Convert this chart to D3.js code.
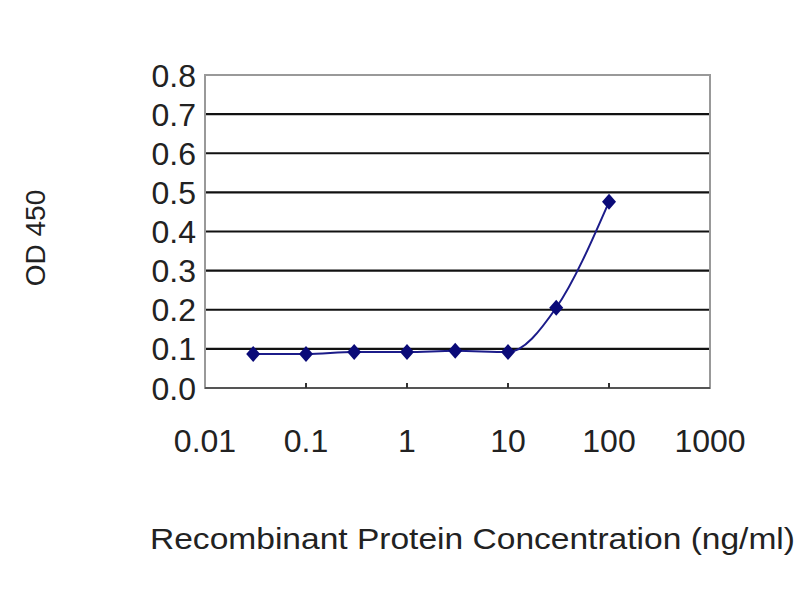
<!DOCTYPE html>
<html>
<head>
<meta charset="utf-8">
<script src="https://cdn.jsdelivr.net/npm/d3@7"></script>
<style>
  body { margin: 0; background: #fff; }
  text { font-family: "Liberation Sans", Arial, sans-serif; fill: #222; }
</style>
</head>
<body>
<div id="chart"></div>
<script>
// concentrations (ng/ml) and measured OD 450
var conc = [0.03, 0.1, 0.3, 1, 3, 10, 30, 100];
var od = [0.087, 0.087, 0.092, 0.092, 0.095, 0.092, 0.205, 0.476];
var xTicks = [0.01, 0.1, 1, 10, 100, 1000];
var yTicks = [0, 0.1, 0.2, 0.3, 0.4, 0.5, 0.6, 0.7, 0.8];

var width = 800, height = 600;
var margin = { top: 75, bottom: 212, left: 205, right: 90 };

var svg = d3.select("#chart").append("svg")
  .attr("width", width)
  .attr("height", height);

var x = d3.scaleLog().domain([0.01, 1000]).range([margin.left, width - margin.right]);
var y = d3.scaleLinear().domain([0, 0.8]).range([height - margin.bottom, margin.top]);

// gridlines
svg.append("g").selectAll("line")
  .data(yTicks.slice(1))
  .join("line")
  .attr("x1", x(0.01)).attr("x2", x(1000))
  .attr("y1", d => y(d)).attr("y2", d => y(d))
  .attr("stroke", "#111").attr("stroke-width", 2.2);

// plot frame
svg.append("rect")
  .attr("x", x(0.01)).attr("y", y(0.8))
  .attr("width", x(1000) - x(0.01)).attr("height", y(0) - y(0.8))
  .attr("fill", "none").attr("stroke", "#999").attr("stroke-width", 2);

// bottom axis line + inner ticks
svg.append("line")
  .attr("x1", x(0.01)).attr("x2", x(1000))
  .attr("y1", y(0)).attr("y2", y(0))
  .attr("stroke", "#555").attr("stroke-width", 2);
svg.append("g").selectAll("line")
  .data(xTicks.slice(1, -1))
  .join("line")
  .attr("x1", d => x(d)).attr("x2", d => x(d))
  .attr("y1", y(0)).attr("y2", y(0) - 5)
  .attr("stroke", "#333").attr("stroke-width", 2);

// y tick labels
svg.append("g").selectAll("text")
  .data(yTicks)
  .join("text")
  .attr("x", 196)
  .attr("y", d => y(d))
  .attr("dy", "0.36em")
  .attr("text-anchor", "end")
  .attr("font-size", 32)
  .text(d => d.toFixed(1));

// x tick labels
svg.append("g").selectAll("text")
  .data(xTicks)
  .join("text")
  .attr("x", d => x(d))
  .attr("y", 452)
  .attr("text-anchor", "middle")
  .attr("font-size", 32)
  .text(d => String(d));

// axis titles
svg.append("text")
  .attr("x", 150).attr("y", 549)
  .attr("font-size", 30)
  .attr("textLength", 645)
  .attr("lengthAdjust", "spacingAndGlyphs")
  .text("Recombinant Protein Concentration (ng/ml)");

svg.append("text")
  .attr("transform", "translate(45," + 238 + ")rotate(-90)")
  .attr("text-anchor", "middle")
  .attr("font-size", 28)
  .text("OD 450");

// series line
var pts = conc.map((c, i) => [c, od[i]]);
svg.append("path")
  .datum(pts)
  .attr("fill", "none")
  .attr("stroke", "#1c1c8a")
  .attr("stroke-width", 2)
  .attr("d", d3.line().x(d => x(d[0])).y(d => y(d[1])).curve(d3.curveMonotoneX));

// diamond markers
svg.append("g").selectAll("path")
  .data(pts)
  .join("path")
  .attr("transform", d => "translate(" + x(d[0]) + "," + y(d[1]) + ")")
  .attr("d", "M0,-8L7,0L0,8L-7,0Z")
  .attr("fill", "#0a0a78");
</script>
</body>
</html>
